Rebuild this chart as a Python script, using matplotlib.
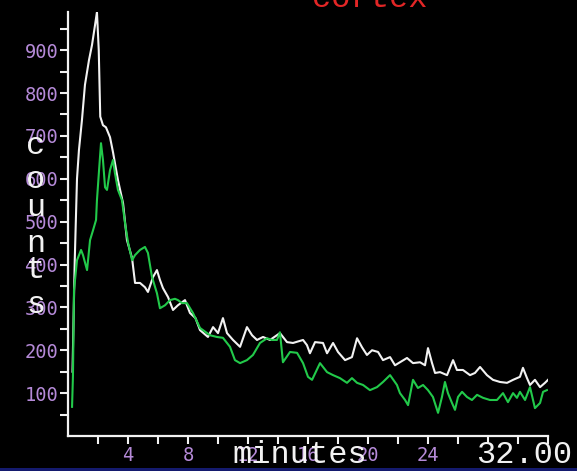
import matplotlib
matplotlib.use("Agg")
import matplotlib.pyplot as plt
from matplotlib.patches import Rectangle

# time-activity curves, minutes vs counts
white_t = [0.3, 0.45, 0.6, 0.73, 0.93, 1.13, 1.4, 1.6, 1.8, 1.93, 2.05, 2.15, 2.33, 2.53,
           2.8, 3.0, 3.33, 3.67, 3.93, 4.27, 4.47, 4.8, 5.13, 5.33, 5.67, 5.93, 6.13, 6.33,
           6.67, 7.0, 7.33, 7.8, 8.13, 8.5, 8.8, 9.33, 9.67, 10.0, 10.33, 10.6, 11.0, 11.47,
           11.93, 12.27, 12.6, 13.0, 13.47, 14.13, 14.6, 15.0, 15.67, 15.93, 16.13, 16.47,
           17.0, 17.27, 17.67, 18.0, 18.47, 18.93, 19.27, 19.6, 19.93, 20.27, 20.67, 21.0,
           21.47, 21.8, 22.13, 22.6, 23.0, 23.47, 23.8, 24.0, 24.27, 24.47, 24.8, 25.27,
           25.67, 25.93, 26.33, 26.8, 27.13, 27.47, 27.93, 28.33, 28.8, 29.27, 29.67, 30.13,
           30.33, 30.6, 30.8, 31.13, 31.47, 31.8, 32.0]
white_v = [150, 410, 600, 667, 737, 819, 877, 912, 958, 989, 900, 745, 725, 720,
           697, 662, 597, 543, 457, 415, 357, 357, 347, 336, 371, 387, 364, 345,
           324, 294, 305, 317, 287, 275, 247, 231, 254, 240, 275, 240, 224, 208,
           254, 235, 224, 231, 224, 240, 219, 217, 224, 212, 193, 219,
           217, 193, 217, 196, 177, 184, 228, 207, 189, 200, 196, 177,
           184, 165, 172, 182, 170, 172, 165, 205, 170, 147, 149, 142,
           177, 154, 154, 142, 147, 161, 142, 131, 126, 124, 131, 138,
           159, 135, 119, 131, 114, 124, 131]

green_t = [0.27, 0.33, 0.4, 0.6, 0.87, 1.0, 1.27, 1.47, 1.67, 1.87, 1.93, 2.07, 2.2, 2.33,
           2.47, 2.6, 2.8, 3.0, 3.13, 3.33, 3.6, 3.8, 4.0, 4.27, 4.47, 4.8, 5.13, 5.33,
           5.6, 5.93, 6.13, 6.47, 6.8, 7.13, 7.33, 7.6, 7.93, 8.33, 8.8, 9.47, 9.93, 10.33,
           10.8, 11.13, 11.47, 11.93, 12.33, 12.8, 13.27, 13.6, 13.93, 14.13, 14.33, 14.8,
           15.27, 15.67, 16.0, 16.27, 16.8, 17.27, 17.67, 18.13, 18.6, 18.93, 19.27, 19.67,
           20.13, 20.6, 21.0, 21.47, 21.93, 22.13, 22.47, 22.67, 23.0, 23.33, 23.67, 24.0,
           24.33, 24.67, 24.93, 25.13, 25.33, 25.6, 25.8, 26.0, 26.27, 26.6, 26.93, 27.27,
           27.67, 28.13, 28.6, 29.0, 29.33, 29.67, 29.93, 30.13, 30.47, 30.8, 31.13, 31.47,
           31.67, 31.93]
green_v = [68, 140, 340, 410, 434, 422, 387, 457, 480, 504, 550, 620, 683, 644,
           580, 574, 620, 644, 613, 574, 550, 497, 452, 410, 422, 434, 441, 427,
           371, 333, 298, 305, 317, 320, 317, 310, 310, 287, 252, 235, 231, 229,
           208, 177, 170, 177, 189, 217, 228, 224, 224, 242, 172, 196,
           194, 170, 138, 131, 170, 149, 142, 135, 124, 135, 124, 119,
           107, 114, 126, 142, 119, 100, 84, 72, 131, 112, 119, 107,
           91, 54, 91, 126, 100, 77, 61, 91, 103, 91, 84, 96,
           89, 84, 84, 100, 79, 100, 89, 103, 84, 114, 65, 77,
           103, 107]

x_ticks = list(range(2, 33, 2))
x_labels = ["4", "8", "12", "16", "20", "24"]
y_ticks = list(range(50, 951, 50))
y_labels = ["100", "200", "300", "400", "500", "600", "700", "800", "900"]

PURPLE = "#b58ad8"
WHITE = "#f2f2f2"
GREEN = "#22c94a"
MONO = "DejaVu Sans Mono"
TYPE = "Liberation Mono"

W, H = 577, 471
fig = plt.figure(figsize=(W / 100, H / 100), dpi=100, facecolor="black")
ax = fig.add_axes([68 / W, 1 - 436 / H, 480 / W, 424 / H], facecolor="black")

ax.plot(white_t, white_v, color=WHITE, lw=1.5, zorder=2)
ax.plot(green_t, green_v, color=GREEN, lw=1.5, zorder=3)

ax.set_xlim(0, 32)
ax.set_ylim(0, 989)
for s in ("top", "right"):
    ax.spines[s].set_visible(False)
for s in ("left", "bottom"):
    ax.spines[s].set_color(WHITE)
    ax.spines[s].set_linewidth(1.6)

ax.set_xticks(x_ticks)
ax.set_xticklabels([x_labels[i // 2] if i % 2 == 1 and i // 2 < len(x_labels) else ""
                    for i in range(len(x_ticks))])
ax.set_yticks(y_ticks)
ax.set_yticklabels([y_labels[i // 2] if i % 2 == 1 else "" for i in range(len(y_ticks))])
ax.tick_params(colors=WHITE, width=1.5, length=5.5, pad=1.5)
for lab in ax.get_xticklabels() + ax.get_yticklabels():
    lab.set_color(PURPLE)
    lab.set_family(MONO)
    lab.set_fontsize(13.5)

# axis captions in a typewriter face
fig.text(300 / W, 1 - 463 / H, "minutes", color=WHITE, family=TYPE, fontsize=23,
         ha="center", va="baseline")
fig.text(572 / W, 1 - 463 / H, "32.00", color=WHITE, family=TYPE, fontsize=23,
         ha="right", va="baseline")
for ch, yy in zip("counts", [146, 180, 208, 244, 270, 305]):
    fig.text(36 / W, 1 - yy / H, ch, color=WHITE, family=TYPE, fontsize=23,
             ha="center", va="center")
fig.text(370 / W, 1 - 7 / H, "cortex", color="#e32626", family=TYPE, fontsize=23,
         ha="center", va="baseline")

fig.patches.append(Rectangle((0, 0), 1, 3 / H, transform=fig.transFigure,
                             facecolor="#141a6e", edgecolor="none"))

fig.savefig("out.png", dpi=100, facecolor="black")
